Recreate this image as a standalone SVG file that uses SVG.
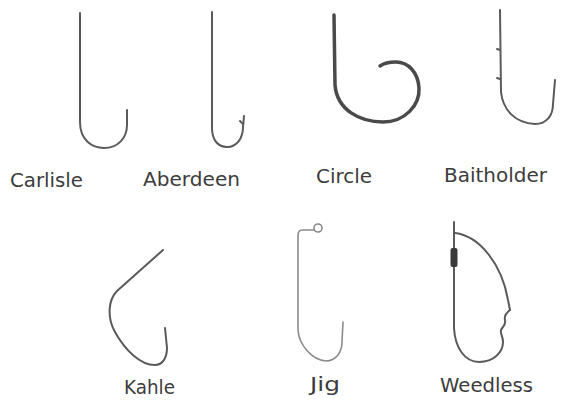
<svg xmlns="http://www.w3.org/2000/svg" width="565" height="400" viewBox="0 0 565 400">
  <style>
    .hook { fill: none; stroke: #5a5a5a; stroke-width: 2; stroke-linecap: round; stroke-linejoin: round; }
    .heavy { stroke: #4a4a4a; stroke-width: 3.5; }
    .light { stroke: #8a8a8a; stroke-width: 1.6; }
    .label { font-family: "DejaVu Sans", "Liberation Sans", sans-serif; font-size: 19px; fill: #3c3c3c; }
  </style>
  <rect width="565" height="400" fill="#ffffff"/>

  <!-- Carlisle -->
  <g id="carlisle">
    <path class="hook" d="M80,13 L80,122 C80,140 92,148 104,148 C118,148 127,138 127,125 L127,110"/>
    <text class="label" x="10" y="187" textLength="73" lengthAdjust="spacingAndGlyphs">Carlisle</text>
  </g>

  <!-- Aberdeen -->
  <g id="aberdeen">
    <path class="hook" d="M212,12 L212,128 C212,140 218,147 227,147 C237,147 243,138 243,127 L244,116"/>
    <path class="hook" stroke-width="1.5" d="M243,124 L240,121"/>
    <text class="label" x="143" y="186" textLength="97" lengthAdjust="spacingAndGlyphs">Aberdeen</text>
  </g>

  <!-- Circle -->
  <g id="circle">
    <path class="hook heavy" d="M334,15 L335,85 C337,110 360,122 383,122 C405,122 420,105 419,88 C418,72 408,62 396,62 C390,62 384,63 380,66"/>
    <text class="label" x="316" y="183" textLength="56" lengthAdjust="spacingAndGlyphs">Circle</text>
  </g>

  <!-- Baitholder -->
  <g id="baitholder">
    <path class="hook" d="M500,10 L501,92 C503,110 515,123 535,124 C547,124 553,115 553,104 L555,80"/>
    <path class="hook" stroke-width="1.5" d="M500,50 L497,49 M500,79 L497,78"/>
    <text class="label" x="444" y="182" textLength="103" lengthAdjust="spacingAndGlyphs">Baitholder</text>
  </g>

  <!-- Kahle -->
  <g id="kahle">
    <path class="hook" d="M163,250 L117,291 C108,300 107,318 115,332 C125,350 140,365 155,365 C163,365 167,357 167,348 L165,328"/>
    <text class="label" x="124" y="394" textLength="51" lengthAdjust="spacingAndGlyphs">Kahle</text>
  </g>

  <!-- Jig -->
  <g id="jig">
    <circle class="hook light" cx="318" cy="228" r="4"/>
    <path class="hook light" d="M314,230 L302,230 Q298,230 298,236 L298,330 C299,345 312,360 326,361 C336,361 342,352 342,342 L343,322"/>
    <text class="label" x="310" y="391" textLength="30" lengthAdjust="spacingAndGlyphs">Jig</text>
  </g>

  <!-- Weedless -->
  <g id="weedless">
    <path class="hook" d="M454,222 L454,328 C455,348 465,362 479,362 C494,362 503,352 503,342 C503,336 500,334 501,330 C503,326 506,325 505,320 C504,316 506,313 510,310"/>
    <path class="hook" stroke-width="1.6" d="M455,233 C480,236 502,265 508,300 L510,310"/>
    <rect x="450.5" y="248" width="7" height="19" rx="2" fill="#3a3a3a"/>
    <text class="label" x="440" y="392" textLength="93" lengthAdjust="spacingAndGlyphs">Weedless</text>
  </g>
</svg>
